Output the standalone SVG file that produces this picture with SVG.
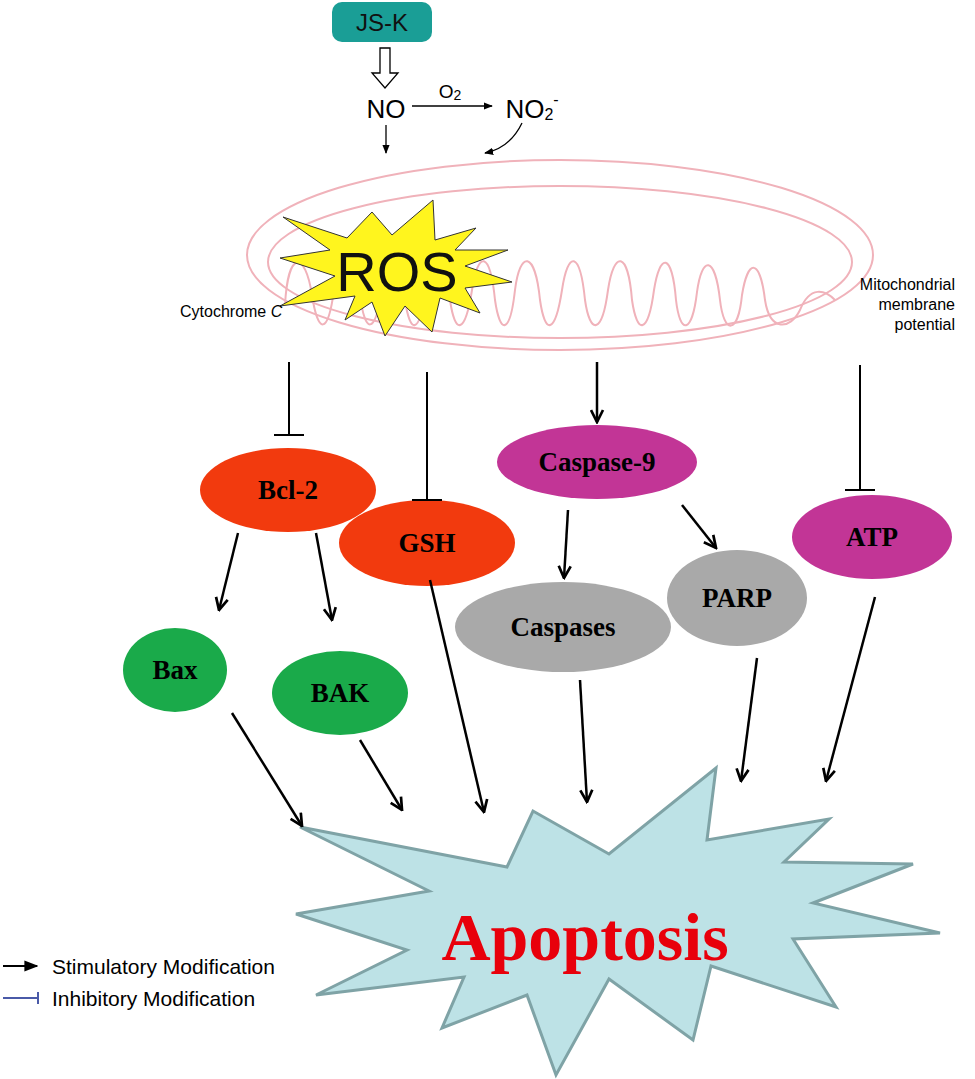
<svg xmlns="http://www.w3.org/2000/svg" width="975" height="1079" viewBox="0 0 975 1079">
<defs>
<marker id="ah" viewBox="0 0 10 10" refX="9" refY="5" markerWidth="6" markerHeight="6" orient="auto"><path d="M1,1 L9,5 L1,9" fill="none" stroke="#000" stroke-width="1.8"/></marker>
<marker id="ahs" viewBox="0 0 10 10" refX="9" refY="5" markerWidth="7" markerHeight="7" orient="auto"><path d="M0,1 L10,5 L0,9 z" fill="#000"/></marker>
</defs>
<style>
.s{font-family:"Liberation Sans",Arial,sans-serif}
.n{font-family:"Liberation Serif","Times New Roman",serif;font-weight:bold;font-size:27px;text-anchor:middle}
.ar{stroke:#000;stroke-width:2.5;fill:none;marker-end:url(#ah)}
.inh{stroke:#000;stroke-width:2;fill:none}
.mito{fill:none;stroke:#f0b2ba;stroke-width:2}
</style>
<rect width="975" height="1079" fill="#fff"/>
<g id="mitochondrion">
<ellipse class="mito" cx="560" cy="255" rx="313" ry="95"/>
<ellipse class="mito" cx="560" cy="262" rx="292" ry="76"/>
<path class="mito" d="M285,305 C288,250 305,250 312,295 C318,335 328,335 334,290 C340,245 355,245 360,295 C365,335 375,335 382,290 C388,250 400,250 405,300 C410,335 420,335 425,290 C430,250 445,250 450,300 C455,335 465,335 472,290 C478,250 490,250 495,300 C500,335 510,335 515,290 C520,250 535,250 540,300 C545,335 555,335 562,290 C568,250 580,250 585,300 C590,335 602,335 608,290 C614,250 628,250 632,300 C637,335 648,335 654,290 C660,252 672,252 676,300 C680,335 692,335 697,292 C702,255 715,255 720,300 C724,335 738,335 742,295 C748,258 760,258 765,300 C770,332 790,330 800,310 C810,285 825,290 835,300"/>
</g>
<g id="jsk">
<rect x="332" y="2" width="100" height="40" rx="10" fill="#1a9e96"/>
<text class="s" x="382" y="31" font-size="24" text-anchor="middle" fill="#111">JS-K</text>
</g>
<g id="no"><text class="s" x="386" y="118" font-size="26" text-anchor="middle">NO</text></g>
<g id="o2"><text class="s" x="450" y="98" font-size="19" text-anchor="middle">O<tspan font-size="14" dy="2">2</tspan></text></g>
<g id="no2"><text class="s" x="532" y="118" font-size="26" text-anchor="middle">NO<tspan font-size="16" dy="2">2</tspan><tspan font-size="16" dy="-15">-</tspan></text></g>
<g id="ros">
<polygon points="283,217 347,238 372,212 392,235 433,200 435,240 476,228 455,250 508,250 465,266 512,282 465,288 480,313 440,298 432,332 405,306 385,336 372,302 345,320 355,296 280,306 335,276 280,258 330,250" fill="#fff51e" stroke="#333" stroke-width="1"/>
<text class="s" x="397" y="291" font-size="56" text-anchor="middle" fill="#111">ROS</text>
</g>
<g id="cytc"><text class="s" x="180" y="317" font-size="16">Cytochrome <tspan font-style="italic">C</tspan></text></g>
<g id="mmp"><text class="s" x="955" y="290" font-size="16" text-anchor="end"><tspan x="955">Mitochondrial</tspan><tspan x="955" dy="20">membrane</tspan><tspan x="955" dy="20">potential</tspan></text></g>
<g id="apoptosis">
<polygon points="300,827 507,867 533,811 609,854 716,768 707,840 829,819 784,862 913,864 813,903 940,933 793,939 836,1007 711,966 693,1040 609,979 556,1075 527,995 442,1028 464,977 316,995 407,950 296,914 429,891" fill="#bde2e6" stroke="#7fa3a6" stroke-width="3"/>
<text x="585" y="960" font-family="Liberation Serif,Times New Roman,serif" font-weight="bold" font-size="68" fill="#e8000b" text-anchor="middle">Apoptosis</text>
</g>
<g id="bcl2"><ellipse cx="288" cy="490" rx="88" ry="42" fill="#f23a0e"/><text class="n" x="288" y="499">Bcl-2</text></g>
<g id="gsh"><ellipse cx="427" cy="543" rx="88" ry="43" fill="#f23a0e"/><text class="n" x="427" y="552">GSH</text></g>
<g id="casp9"><ellipse cx="597" cy="462" rx="100" ry="37" fill="#c23596"/><text class="n" x="597" y="471">Caspase-9</text></g>
<g id="atp"><ellipse cx="872" cy="537" rx="80" ry="42" fill="#c23596"/><text class="n" x="872" y="546">ATP</text></g>
<g id="caspases"><ellipse cx="563" cy="627" rx="108" ry="45" fill="#a9a9a9"/><text class="n" x="563" y="636">Caspases</text></g>
<g id="parp"><ellipse cx="737" cy="598" rx="70" ry="48" fill="#a9a9a9"/><text class="n" x="737" y="607">PARP</text></g>
<g id="bax"><ellipse cx="175" cy="670" rx="52" ry="42" fill="#1aaa4a"/><text class="n" x="175" y="679">Bax</text></g>
<g id="bak"><ellipse cx="340" cy="693" rx="68" ry="42" fill="#1aaa4a"/><text class="n" x="340" y="702">BAK</text></g>
<g id="connectors">
<path d="M380,48 h10 v25 h8 l-13,15 l-13,-15 h8 z" fill="#fff" stroke="#000" stroke-width="1.3"/>
<line x1="412" y1="106" x2="492" y2="106" stroke="#000" stroke-width="1.3" marker-end="url(#ahs)"/>
<line x1="386" y1="125" x2="386" y2="153" stroke="#000" stroke-width="1.3" marker-end="url(#ahs)"/>
<path d="M522,123 Q510,148 485,153" stroke="#000" stroke-width="1.3" fill="none" marker-end="url(#ahs)"/>
<path class="inh" d="M289,362 V435 M274,435 H304"/>
<path class="inh" d="M427,372 V500 M412,500 H442"/>
<path class="inh" d="M860,365 V490 M845,490 H875"/>
<line class="ar" x1="597" y1="362" x2="597" y2="422"/>
<line class="ar" x1="238" y1="533" x2="219" y2="610"/>
<line class="ar" x1="316" y1="533" x2="332" y2="620"/>
<line class="ar" x1="568" y1="510" x2="564" y2="578"/>
<line class="ar" x1="682" y1="505" x2="716" y2="548"/>
<line class="ar" x1="232" y1="713" x2="302" y2="826"/>
<line class="ar" x1="360" y1="740" x2="402" y2="810"/>
<line class="ar" x1="430" y1="580" x2="484" y2="812"/>
<line class="ar" x1="580" y1="680" x2="587" y2="802"/>
<line class="ar" x1="757" y1="658" x2="741" y2="781"/>
<line class="ar" x1="875" y1="597" x2="826" y2="781"/>
</g>
<g id="legend">
<line x1="3" y1="966" x2="37" y2="966" stroke="#000" stroke-width="2" marker-end="url(#ahs)"/>
<text class="s" x="52" y="974" font-size="21">Stimulatory Modification</text>
<path d="M3,998 H38 M38,992 V1004" stroke="#4a5aa8" stroke-width="2" fill="none"/>
<text class="s" x="52" y="1006" font-size="21">Inhibitory Modification</text>
</g>
</svg>
